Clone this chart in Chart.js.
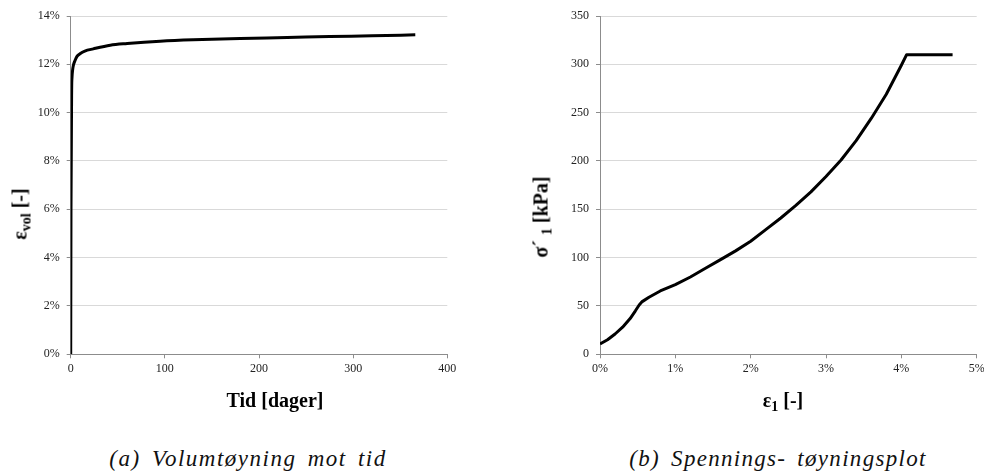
<!DOCTYPE html>
<html>
<head>
<meta charset="utf-8">
<script src="https://cdn.jsdelivr.net/npm/chart.js@4.4.0/dist/chart.umd.min.js"></script>
<style>
  html, body { margin: 0; padding: 0; background: #fff; overflow: hidden; }
  #wrap { position: relative; width: 984px; height: 476px; }
  canvas { position: absolute; top: 0; }
  .lbl { position: absolute; font-family: 'Liberation Serif', 'Times New Roman', serif; font-weight: bold; font-size: 20px; color: #000; white-space: nowrap; transform: translate(-50%, -50%); }
  .lbl.rot { transform: translate(-50%, -50%) rotate(-90deg); }
  .lbl sub { font-size: 14px; vertical-align: -4px; line-height: 0; }
  .cap { position: absolute; font-family: 'Liberation Serif', 'Times New Roman', serif; font-style: italic; font-size: 23px; letter-spacing: 1.5px; word-spacing: 4px; color: #111; white-space: nowrap; transform: translate(-50%, -50%); }
</style>
</head>
<body>
<div id="wrap">
  <canvas id="chartA" width="490" height="420" style="left:0;width:490px;height:420px"></canvas>
  <canvas id="chartB" width="494" height="420" style="left:490px;width:494px;height:420px"></canvas>
  <div class="lbl rot" style="left:20px;top:214px">ε<sub>vol</sub> [-]</div>
  <div class="lbl" style="left:275px;top:400px">Tid [dager]</div>
  <div class="lbl rot" style="left:541px;top:217px">σ´ <sub>1</sub> [kPa]</div>
  <div class="lbl" style="left:783px;top:400px">ε<sub>1</sub> [-]</div>
  <div class="cap" style="left:248px;top:459px">(a) Volumtøyning mot tid</div>
  <div class="cap" style="left:778px;top:459px;letter-spacing:1.3px">(b) Spennings- tøyningsplot</div>
</div>
<script>
// (a) volumetric strain vs time
const tidDager = [0, 0.3, 1.0, 1.4, 2.0, 2.8, 4.6, 6.5, 9.9, 15, 24, 42, 60, 95, 130, 180, 230, 275, 320, 366];
const epsVol = [0, 6, 10.9, 11.47, 11.75, 11.95, 12.16, 12.32, 12.44, 12.55, 12.64, 12.79, 12.86, 12.96, 13.02, 13.07, 13.11, 13.15, 13.18, 13.22];

// (b) stress-strain
const eps1 = [0, 0.1, 0.2, 0.3, 0.4, 0.47, 0.52, 0.56, 0.65, 0.8, 1.0, 1.2, 1.4, 1.6, 1.8, 2.0, 2.2, 2.4, 2.6, 2.8, 3.0, 3.2, 3.4, 3.6, 3.8, 4.0, 4.07, 4.68];
const sigma1 = [10.6, 15, 21, 28, 37, 45, 51, 54.5, 59, 65.5, 72, 80, 89, 98, 107, 117, 129, 141, 154, 168, 184, 201, 221, 244, 269, 299, 310, 310];

const tickFont = { family: "'Liberation Serif', 'Times New Roman', serif", size: 12 };
const gridColor = '#d9d9d9';
const axisColor = '#8c8c8c';

function toXY(xs, ys) {
    return xs.map((x, i) => ({ x: x, y: ys[i] }));
}

function makeChart(id, points, opts) {
    const ctx = document.getElementById(id).getContext('2d');
    return new Chart(ctx, {
        type: 'scatter',
        data: {
            datasets: [{
                data: points,
                showLine: true,
                borderColor: '#000',
                borderWidth: 3,
                borderJoinStyle: 'round',
                pointRadius: 0,
                cubicInterpolationMode: opts.mode,
                tension: 0
            }]
        },
        options: {
            responsive: false,
            animation: false,
            layout: { padding: { left: 0, top: 16, right: opts.padRight, bottom: 0 } },
            plugins: { legend: { display: false }, tooltip: { enabled: false } },
            scales: {
                x: {
                    type: 'linear',
                    min: opts.xMin, max: opts.xMax,
                    ticks: { stepSize: opts.xStep, font: tickFont, color: '#222', padding: 3, maxRotation: 0,
                        callback: opts.xFmt },
                    grid: { display: true, drawOnChartArea: false, tickLength: 4, tickColor: axisColor },
                    border: { color: axisColor },
                    afterFit: function (scale) {
                        scale.height = 420 - 354.3;
                        scale.paddingLeft = 0;
                        scale.paddingRight = 0;
                    }
                },
                y: {
                    type: 'linear',
                    min: opts.yMin, max: opts.yMax,
                    ticks: { stepSize: opts.yStep, font: tickFont, color: '#222', padding: 7,
                        callback: opts.yFmt },
                    grid: { color: gridColor, tickLength: 4, tickColor: axisColor },
                    border: { color: axisColor },
                    afterFit: function (scale) {
                        scale.width = opts.yWidth;
                        scale.paddingTop = 0;
                        scale.paddingBottom = 0;
                    }
                }
            }
        }
    });
}

makeChart('chartA', toXY(tidDager, epsVol), {
    mode: 'monotone',
    padRight: 490 - 447.3,
    yWidth: 70.7,
    xMin: 0, xMax: 400, xStep: 100,
    yMin: 0, yMax: 14, yStep: 2,
    xFmt: v => v,
    yFmt: v => v + '%'
});

makeChart('chartB', toXY(eps1, sigma1), {
    mode: 'default',
    padRight: 494 - 486.7,
    yWidth: 110,
    xMin: 0, xMax: 5, xStep: 1,
    yMin: 0, yMax: 350, yStep: 50,
    xFmt: v => v + '%',
    yFmt: v => v
});
</script>
</body>
</html>
